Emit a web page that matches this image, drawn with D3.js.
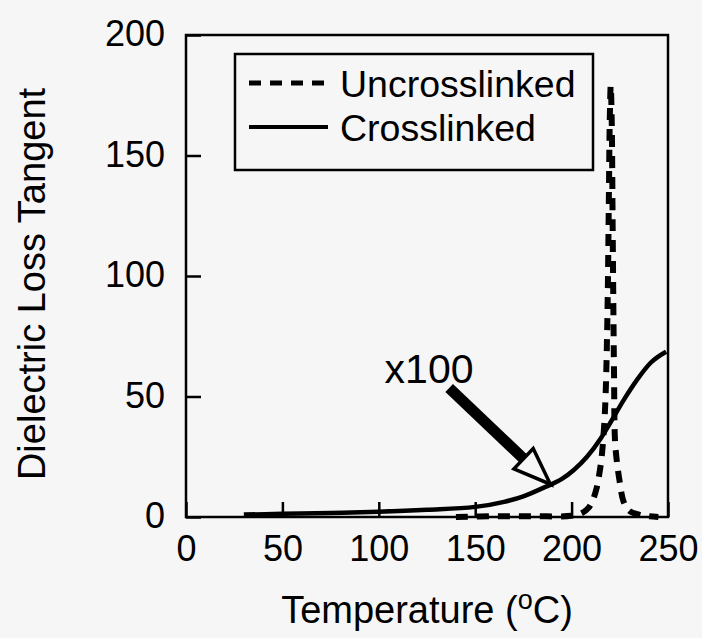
<!DOCTYPE html>
<html>
<head>
<meta charset="utf-8">
<script src="https://cdn.jsdelivr.net/npm/d3@7"></script>
<style>
  html, body { margin: 0; padding: 0; background: #f6f6f6; }
  svg { display: block; }
  text { font-family: "Liberation Sans", Arial, sans-serif; fill: #000; }
</style>
</head>
<body>
<svg id="chart" width="702" height="638"></svg>
<script>
// Temperature (°C) and dielectric loss tangent readings
const uncrosslinkedT   = [140, 160, 180, 200, 205, 209, 211, 213, 214.2, 215.6, 217.3, 218.5, 219.3, 219.8, 220.3, 220.8, 221.3, 222, 222.5, 223.4, 224.8, 227, 230, 235, 240, 245];
const uncrosslinkedVal = [0, 0.3, 0.3, 0.5, 1.5, 4, 7, 12, 17, 25, 44, 80, 130, 165, 179, 165, 120, 60, 32, 23.6, 15.4, 6.3, 2.5, 1, 0.3, 0];

// Crosslinked sample, plotted ×100
const crosslinkedT   = [30, 50, 75, 100, 125, 150, 165, 175, 185, 195, 201, 208, 215, 220, 227, 234, 241, 249];
const crosslinkedVal = [1.0, 1.3, 1.7, 2.2, 3.0, 4.2, 6.3, 8.6, 12.0, 15.8, 19.4, 25.0, 32.5, 39.0, 48.5, 57.0, 64.0, 68.6];

const xTicks = [0, 50, 100, 150, 200, 250];
const yTicks = [0, 50, 100, 150, 200];

const seriesNames = ["Uncrosslinked", "Crosslinked"];

// Annotation arrow (data coordinates): tail and tip
const arrowTail = [136.5, 53.5];
const arrowTip  = [189, 13.6];
const arrowLabel = { text: "x100", at: [103, 55.5] };

const svg = d3.select("#chart");
const plotLeft = 186, plotRight = 668, plotTop = 35, plotBottom = 517;

const x = d3.scaleLinear().domain([0, 250]).range([plotLeft, plotRight]);
const y = d3.scaleLinear().domain([0, 200]).range([plotBottom, plotTop]);

const TICK_FONT = 36, LEGEND_FONT = 37.5, TITLE_FONT = 38;
const BG = "#f6f6f6";

// Inward ticks on the bottom and left axes
const xAxis = d3.axisBottom(x).tickValues(xTicks).tickSize(15).tickPadding(0).tickFormat(d3.format("d"));
const yAxis = d3.axisLeft(y).tickValues(yTicks).tickSize(15).tickPadding(0).tickFormat(d3.format("d"));

const gx = svg.append("g").attr("transform", `translate(0,${plotBottom})`).call(xAxis);
gx.select(".domain").remove();
gx.selectAll(".tick line").attr("y2", -15).attr("stroke", "#000").attr("stroke-width", 2.5);
gx.selectAll(".tick text").attr("y", 44).attr("dy", null)
  .style("font-size", TICK_FONT + "px").style("font-family", "'Liberation Sans', Arial, sans-serif");

const gy = svg.append("g").attr("transform", `translate(${plotLeft},0)`).call(yAxis);
gy.select(".domain").remove();
gy.selectAll(".tick line").attr("x2", 15).attr("stroke", "#000").attr("stroke-width", 2.5);
gy.selectAll(".tick text").attr("x", -21).attr("dy", "0.30em")
  .style("font-size", TICK_FONT + "px").style("font-family", "'Liberation Sans', Arial, sans-serif");

// Plot frame
svg.append("rect")
  .attr("x", plotLeft).attr("y", plotTop)
  .attr("width", plotRight - plotLeft).attr("height", plotBottom - plotTop)
  .attr("fill", "none").attr("stroke", "#000").attr("stroke-width", 2.5);

// Uncrosslinked: dashed
svg.append("path")
  .datum(d3.zip(uncrosslinkedT, uncrosslinkedVal))
  .attr("d", d3.line().x(d => x(d[0])).y(d => y(d[1])).curve(d3.curveCatmullRom.alpha(0.5)))
  .attr("fill", "none").attr("stroke", "#000")
  .attr("stroke-width", 6).attr("stroke-dasharray", "12,9");

// Crosslinked: solid
svg.append("path")
  .datum(d3.zip(crosslinkedT, crosslinkedVal))
  .attr("d", d3.line().x(d => x(d[0])).y(d => y(d[1])).curve(d3.curveMonotoneX))
  .attr("fill", "none").attr("stroke", "#000").attr("stroke-width", 4.5)
  .attr("stroke-linejoin", "round");

// Arrow annotation with an open head
(function drawArrow() {
  const [x0, y0] = [x(arrowTail[0]), y(arrowTail[1])];
  const [x1, y1] = [x(arrowTip[0]), y(arrowTip[1])];
  const len = Math.hypot(x1 - x0, y1 - y0);
  const ux = (x1 - x0) / len, uy = (y1 - y0) / len;
  const px = -uy, py = ux;
  const headLen = 37, headHalf = 14, shaftHalf = 5.5;
  const bx = x1 - ux * headLen, by = y1 - uy * headLen;
  svg.append("polygon")
    .attr("points", [
      [x0 + px * shaftHalf, y0 + py * shaftHalf],
      [bx + px * shaftHalf, by + py * shaftHalf],
      [bx - px * shaftHalf, by - py * shaftHalf],
      [x0 - px * shaftHalf, y0 - py * shaftHalf]
    ].map(p => p.join(",")).join(" "))
    .attr("fill", "#000");
  svg.append("polygon")
    .attr("points", [
      [bx + px * headHalf, by + py * headHalf],
      [x1, y1],
      [bx - px * headHalf, by - py * headHalf]
    ].map(p => p.join(",")).join(" "))
    .attr("fill", BG).attr("stroke", "#000").attr("stroke-width", 3.5)
    .attr("stroke-linejoin", "miter");
})();

svg.append("text")
  .attr("x", x(arrowLabel.at[0])).attr("y", y(arrowLabel.at[1]))
  .style("font-size", "41px")
  .text(arrowLabel.text);

// Legend
const legend = svg.append("g");
legend.append("rect")
  .attr("x", 235).attr("y", 54).attr("width", 358).attr("height", 116)
  .attr("fill", BG).attr("stroke", "#000").attr("stroke-width", 2.5);
const legendRows = [
  { name: seriesNames[0], dash: "12,9", width: 5, y: 83 },
  { name: seriesNames[1], dash: null, width: 4, y: 127 }
];
legendRows.forEach(r => {
  legend.append("line")
    .attr("x1", 249).attr("x2", r.dash ? 326 : 328)
    .attr("y1", r.y).attr("y2", r.y)
    .attr("stroke", "#000").attr("stroke-width", r.width)
    .attr("stroke-dasharray", r.dash);
  legend.append("text")
    .attr("x", 340).attr("y", r.y).attr("dy", "0.36em")
    .style("font-size", LEGEND_FONT + "px")
    .text(r.name);
});

// Axis titles
const xt = svg.append("text")
  .attr("x", (plotLeft + plotRight) / 2).attr("y", 623)
  .attr("text-anchor", "middle")
  .style("font-size", TITLE_FONT + "px");
xt.append("tspan").text("Temperature (");
xt.append("tspan").attr("dy", -14).style("font-size", "27px").text("o");
xt.append("tspan").attr("dy", 14).text("C)");

svg.append("text")
  .attr("transform", `translate(45,${(plotTop + plotBottom) / 2 + 8}) rotate(-90)`)
  .attr("text-anchor", "middle")
  .style("font-size", TITLE_FONT + "px")
  .text("Dielectric Loss Tangent");
</script>
</body>
</html>
